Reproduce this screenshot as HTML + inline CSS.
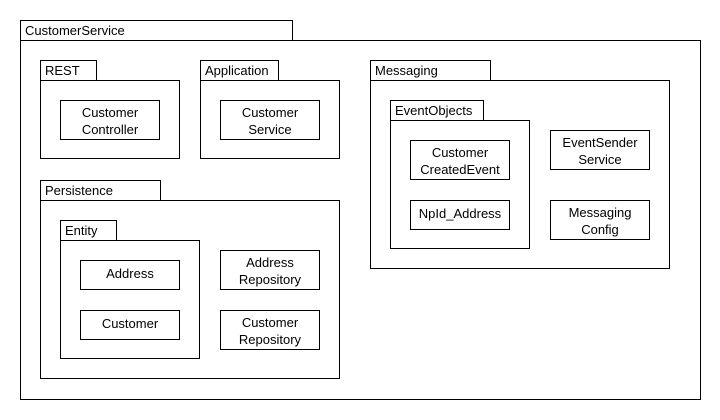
<!DOCTYPE html>
<html><head><meta charset="utf-8"><style>
html,body{margin:0;padding:0;background:#fff;}
svg{display:block;}
text{font-family:"Liberation Sans",Arial,sans-serif;font-size:13px;fill:#000;}
</style></head><body>
<svg width="720" height="420" viewBox="0 0 720 420" xmlns="http://www.w3.org/2000/svg">
<g fill="#fff" stroke="#000" stroke-width="1">
<!-- outer -->
<rect x="20.5" y="20.5" width="272" height="20"/>
<rect x="20.5" y="40.5" width="680" height="359"/>
<!-- REST -->
<rect x="40.5" y="60.5" width="56" height="20"/>
<rect x="40.5" y="80.5" width="139" height="78"/>
<rect x="60.5" y="100.5" width="99" height="39"/>
<!-- Application -->
<rect x="200.5" y="60.5" width="78" height="20"/>
<rect x="200.5" y="80.5" width="139" height="78"/>
<rect x="220.5" y="100.5" width="99" height="39"/>
<!-- Persistence -->
<rect x="40.5" y="180.5" width="120" height="20"/>
<rect x="40.5" y="200.5" width="299" height="178"/>
<rect x="60.5" y="220.5" width="56" height="20"/>
<rect x="60.5" y="240.5" width="139" height="118"/>
<rect x="80.5" y="260.5" width="99" height="29"/>
<rect x="80.5" y="310.5" width="99" height="29"/>
<rect x="220.5" y="250.5" width="99" height="39"/>
<rect x="220.5" y="310.5" width="99" height="39"/>
<!-- Messaging -->
<rect x="370.5" y="60.5" width="120" height="20"/>
<rect x="370.5" y="80.5" width="299" height="188"/>
<rect x="390.5" y="100.5" width="93" height="20"/>
<rect x="390.5" y="120.5" width="139" height="128"/>
<rect x="410.5" y="140.5" width="99" height="39"/>
<rect x="410.5" y="200.5" width="99" height="29"/>
<rect x="550.5" y="130.5" width="99" height="39"/>
<rect x="550.5" y="200.5" width="99" height="39"/>
</g>
<text x="25" y="35">CustomerService</text>
<text x="45" y="75">REST</text>
<text x="205" y="75">Application</text>
<text x="45" y="195">Persistence</text>
<text x="65" y="235">Entity</text>
<text x="375" y="75">Messaging</text>
<text x="395" y="115">EventObjects</text>
<g text-anchor="middle">
<text x="110" y="117">Customer</text><text x="110" y="134">Controller</text>
<text x="270" y="117">Customer</text><text x="270" y="134">Service</text>
<text x="130" y="278">Address</text>
<text x="130" y="328">Customer</text>
<text x="270" y="267">Address</text><text x="270" y="284">Repository</text>
<text x="270" y="327">Customer</text><text x="270" y="344">Repository</text>
<text x="460" y="157">Customer</text><text x="460" y="174">CreatedEvent</text>
<text x="460" y="218">NpId_Address</text>
<text x="600" y="147">EventSender</text><text x="600" y="164">Service</text>
<text x="600" y="217">Messaging</text><text x="600" y="234">Config</text>
</g>
</svg>
</body></html>
